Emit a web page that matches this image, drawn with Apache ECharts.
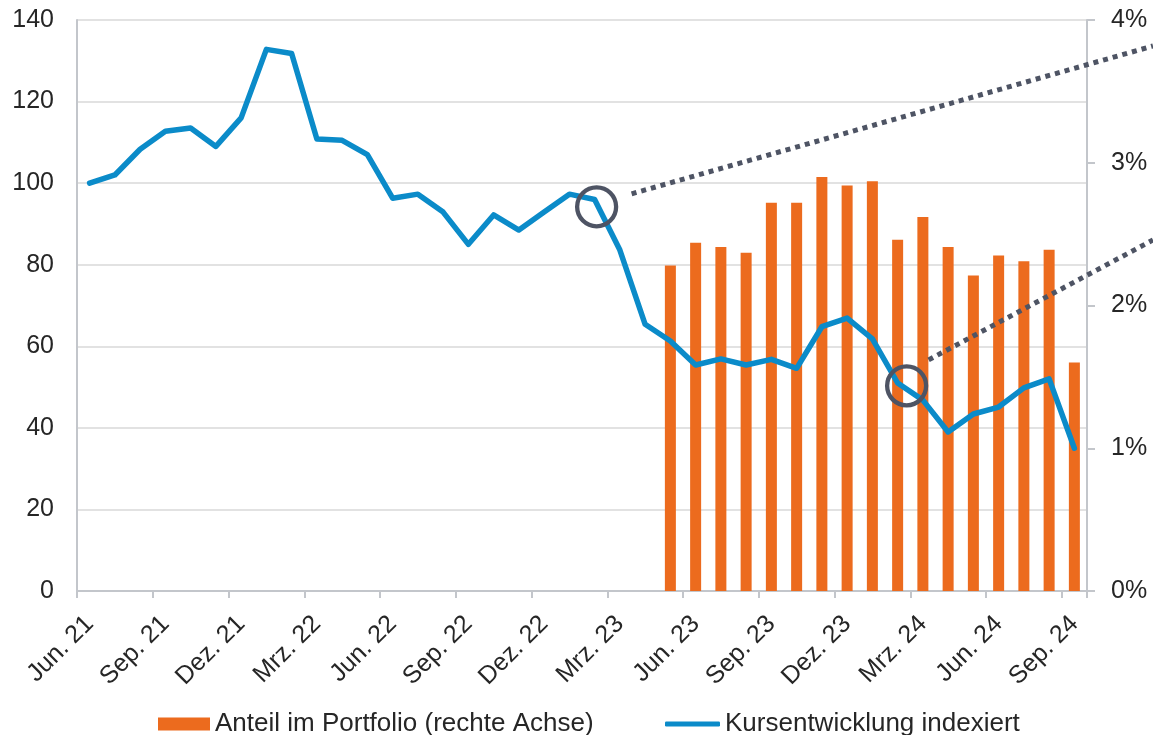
<!DOCTYPE html>
<html>
<head>
<meta charset="utf-8">
<title>Kursentwicklung und Portfolioanteil</title>
<script src="https://cdn.jsdelivr.net/npm/echarts@6/dist/echarts.min.js"></script>
<style>
  html, body { margin: 0; padding: 0; background: #ffffff; }
  #chart { width: 1153px; height: 735px; }
</style>
</head>
<body>
<div id="chart"></div>
<script>
// Monatsachse Jun. 21 – Sep. 24
const months = [
  'Jun. 21', 'Jul. 21', 'Aug. 21', 'Sep. 21', 'Okt. 21', 'Nov. 21', 'Dez. 21',
  'Jan. 22', 'Feb. 22', 'Mrz. 22', 'Apr. 22', 'Mai. 22', 'Jun. 22', 'Jul. 22',
  'Aug. 22', 'Sep. 22', 'Okt. 22', 'Nov. 22', 'Dez. 22', 'Jan. 23', 'Feb. 23',
  'Mrz. 23', 'Apr. 23', 'Mai. 23', 'Jun. 23', 'Jul. 23', 'Aug. 23', 'Sep. 23',
  'Okt. 23', 'Nov. 23', 'Dez. 23', 'Jan. 24', 'Feb. 24', 'Mrz. 24', 'Apr. 24',
  'Mai. 24', 'Jun. 24', 'Jul. 24', 'Aug. 24', 'Sep. 24'
];

// Kurs indexiert (Jun. 21 = 100)
const priceIndex = [
  100, 102, 108.3, 112.7, 113.5, 109, 116, 132.8, 131.8, 110.8,
  110.5, 107, 96.3, 97.3, 92.9, 85, 92.2, 88.5, 92.9, 97.3,
  96, 83.6, 65.4, 61.3, 55.4, 56.9, 55.4, 56.8, 54.6, 64.8,
  66.9, 61.8, 51, 46.8, 39, 43.4, 45.1, 49.8, 52, 35
];

// Anteil im Portfolio in %, ab Mai. 23
const shareFrom = 'Mai. 23';
const portfolioShare = [
  2.28, 2.44, 2.41, 2.37, 2.72, 2.72, 2.90, 2.84, 2.87,
  2.46, 2.62, 2.41, 2.21, 2.35, 2.31, 2.39, 1.60
];

// markierte Zeitpunkte (Monat, Indexwert)
const highlights = [
  { month: 'Feb. 23', value: 94.2 },
  { month: 'Feb. 24', value: 50.3 }
];

const leftTicks = { min: 0, max: 140, interval: 20 };
const rightTicks = { min: 0, max: 4, interval: 1 };

const shareSeries = months.map(function (m, i) {
  const k = i - months.indexOf(shareFrom);
  return k >= 0 && k < portfolioShare.length ? portfolioShare[k] : null;
});

const FONT = "'Liberation Sans', Arial, sans-serif";
const TEXT = '#262626';
const AXIS = '#C3C6CB';
const GRID = '#D9D9D9';
const ORANGE = '#EC6B1E';
const BLUE = '#0B8BC9';
const MARK = '#4E5464';

const chart = echarts.init(document.getElementById('chart'), null, { renderer: 'canvas' });

chart.setOption({
  backgroundColor: '#ffffff',
  animation: false,
  textStyle: { fontFamily: FONT, color: TEXT },
  grid: { left: 77, right: 66, top: 20, bottom: 144, containLabel: false },
  legend: [
    {
      data: ['Anteil im Portfolio (rechte Achse)'],
      left: 153, top: 706,
      icon: 'rect', itemWidth: 52, itemHeight: 13, itemGap: 0,
      textStyle: { fontFamily: FONT, fontSize: 26, color: TEXT }
    },
    {
      data: ['Kursentwicklung indexiert'],
      left: 660, top: 706,
      icon: 'roundRect', itemWidth: 55, itemHeight: 5, itemGap: 0,
      textStyle: { fontFamily: FONT, fontSize: 26, color: TEXT }
    }
  ],
  xAxis: {
    type: 'category',
    data: months,
    boundaryGap: true,
    axisLine: { show: true, lineStyle: { color: AXIS, width: 2 } },
    axisTick: { show: true, interval: 2, length: 7, lineStyle: { color: AXIS, width: 2 } },
    axisLabel: {
      interval: 2, rotate: 45, margin: 29,
      fontFamily: FONT, fontSize: 25, color: TEXT
    },
    splitLine: { show: false }
  },
  yAxis: [
    {
      type: 'value',
      min: leftTicks.min, max: leftTicks.max, interval: leftTicks.interval,
      position: 'left',
      axisLine: { show: true, lineStyle: { color: AXIS, width: 2 } },
      axisTick: { show: false },
      axisLabel: { margin: 23, fontFamily: FONT, fontSize: 25, color: TEXT },
      splitLine: { show: true, lineStyle: { color: GRID, width: 1.5 } }
    },
    {
      type: 'value',
      min: rightTicks.min, max: rightTicks.max, interval: rightTicks.interval,
      position: 'right',
      axisLine: { show: true, lineStyle: { color: AXIS, width: 2 } },
      axisTick: { show: true, inside: false, length: 8, lineStyle: { color: AXIS, width: 2 } },
      axisLabel: { margin: 24, formatter: '{value}%', fontFamily: FONT, fontSize: 25, color: TEXT },
      splitLine: { show: false }
    }
  ],
  series: [
    {
      name: 'Anteil im Portfolio (rechte Achse)',
      type: 'bar',
      yAxisIndex: 1,
      data: shareSeries,
      barWidth: 11,
      itemStyle: { color: ORANGE },
      z: 2
    },
    {
      name: 'Kursentwicklung indexiert',
      type: 'line',
      yAxisIndex: 0,
      data: priceIndex,
      symbol: 'none',
      smooth: false,
      itemStyle: { color: BLUE },
      lineStyle: { color: BLUE, width: 5.5, cap: 'round', join: 'round' },
      z: 3
    }
  ]
});

// Markierungskreise mit gepunkteten Hinweislinien zum rechten Rand
function drawHighlights() {
  const W = chart.getWidth();
  const centers = highlights.map(function (h) {
    return chart.convertToPixel({ xAxisIndex: 0, yAxisIndex: 0 }, [h.month, h.value]);
  });
  const c1 = [centers[0][0] + 2, centers[0][1]];
  const c2 = [centers[1][0] + 9, centers[1][1]];
  const elements = [
    {
      type: 'line', z: 100,
      shape: { x1: c1[0] + 35, y1: c1[1] - 13, x2: W, y2: 46 },
      style: { stroke: MARK, lineWidth: 5, lineDash: [5, 5], lineCap: 'butt' }
    },
    {
      type: 'line', z: 100,
      shape: { x1: c2[0] + 22, y1: c2[1] - 26, x2: W, y2: 240 },
      style: { stroke: MARK, lineWidth: 5, lineDash: [5, 5], lineCap: 'butt' }
    },
    {
      type: 'circle', z: 101,
      shape: { cx: c1[0], cy: c1[1], r: 19.5 },
      style: { fill: 'none', stroke: MARK, lineWidth: 4.3 }
    },
    {
      type: 'circle', z: 101,
      shape: { cx: c2[0], cy: c2[1], r: 19.5 },
      style: { fill: 'none', stroke: MARK, lineWidth: 4.3 }
    }
  ];
  chart.setOption({ graphic: elements });
}
drawHighlights();
</script>
</body>
</html>
